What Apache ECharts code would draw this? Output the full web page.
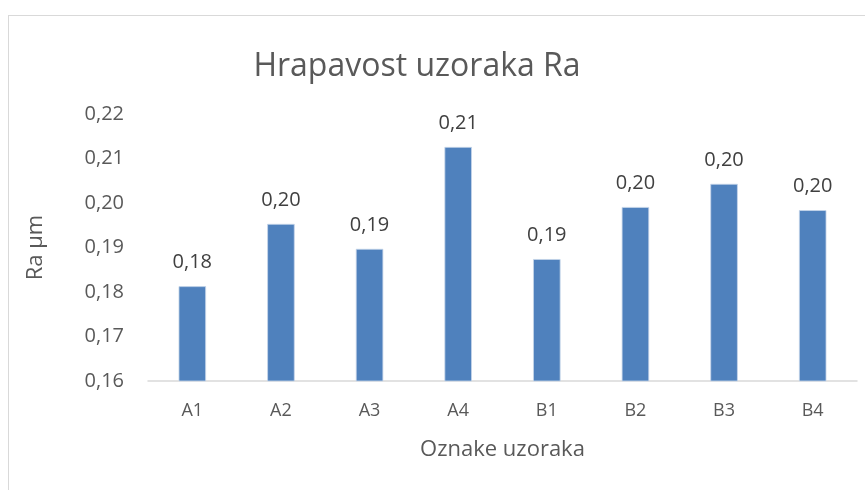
<!DOCTYPE html>
<html>
<head>
<meta charset="utf-8">
<script src="https://cdn.jsdelivr.net/npm/echarts@6/dist/echarts.min.js"></script>
<style>
  html, body { margin: 0; padding: 0; background: #fff; }
  #frame { position: absolute; left: 8px; top: 15px; width: 870px; height: 490px; border: 1px solid #d9d9d9; box-sizing: border-box; }
  #chart { width: 865px; height: 490px; position: absolute; left: 0; top: 0; }
</style>
</head>
<body>
<div id="frame"></div>
<div id="chart"></div>
<script>
// Sample labels and measured roughness Ra (µm)
const categories = ['A1', 'A2', 'A3', 'A4', 'B1', 'B2', 'B3', 'B4'];
const raValues = [0.1813, 0.1953, 0.1897, 0.2126, 0.1874, 0.1991, 0.2043, 0.1984];
const yTicks = { min: 0.16, max: 0.22, step: 0.01 };

const fontFamily = '"Open Sans", "Liberation Sans", sans-serif';
const comma = (v, d) => v.toFixed(d).replace('.', ',');

const chart = echarts.init(document.getElementById('chart'), null, { renderer: 'canvas' });
chart.setOption({
  backgroundColor: 'transparent',
  animation: false,
  title: {
    text: 'Hrapavost uzoraka Ra',
    left: 412,
    top: 46,
    textAlign: 'center',
    textStyle: { fontFamily, fontSize: 32, fontWeight: 'normal', color: '#595959' }
  },
  grid: { left: 148, right: 8, top: 114, bottom: 109 },
  xAxis: {
    type: 'category',
    data: categories,
    name: 'Oznake uzoraka',
    nameLocation: 'middle',
    nameGap: 58,
    nameTextStyle: { fontFamily, fontSize: 22, color: '#595959' },
    axisLine: { lineStyle: { color: '#d9d9d9', width: 1.5 } },
    axisTick: { show: false },
    axisLabel: { fontFamily, fontSize: 18, color: '#595959', margin: 21 }
  },
  yAxis: {
    type: 'value',
    min: yTicks.min,
    max: yTicks.max,
    interval: yTicks.step,
    name: 'Ra µm',
    nameLocation: 'middle',
    nameGap: 101,
    nameRotate: 90,
    nameTextStyle: { fontFamily, fontSize: 22, color: '#595959' },
    axisLine: { show: false },
    axisTick: { show: false },
    splitLine: { show: false },
    axisLabel: { fontFamily, fontSize: 20, color: '#595959', margin: 24, formatter: v => comma(v, 2) }
  },
  series: [{
    type: 'bar',
    data: raValues,
    barWidth: '31%',
    itemStyle: { color: '#4f81bd', borderColor: '#c6d5ea', borderWidth: 0.8 },
    label: {
      show: true,
      position: 'top',
      distance: 14,
      fontFamily,
      fontSize: 20,
      color: '#404040',
      formatter: p => comma(p.value, 2)
    }
  }]
});
</script>
</body>
</html>
